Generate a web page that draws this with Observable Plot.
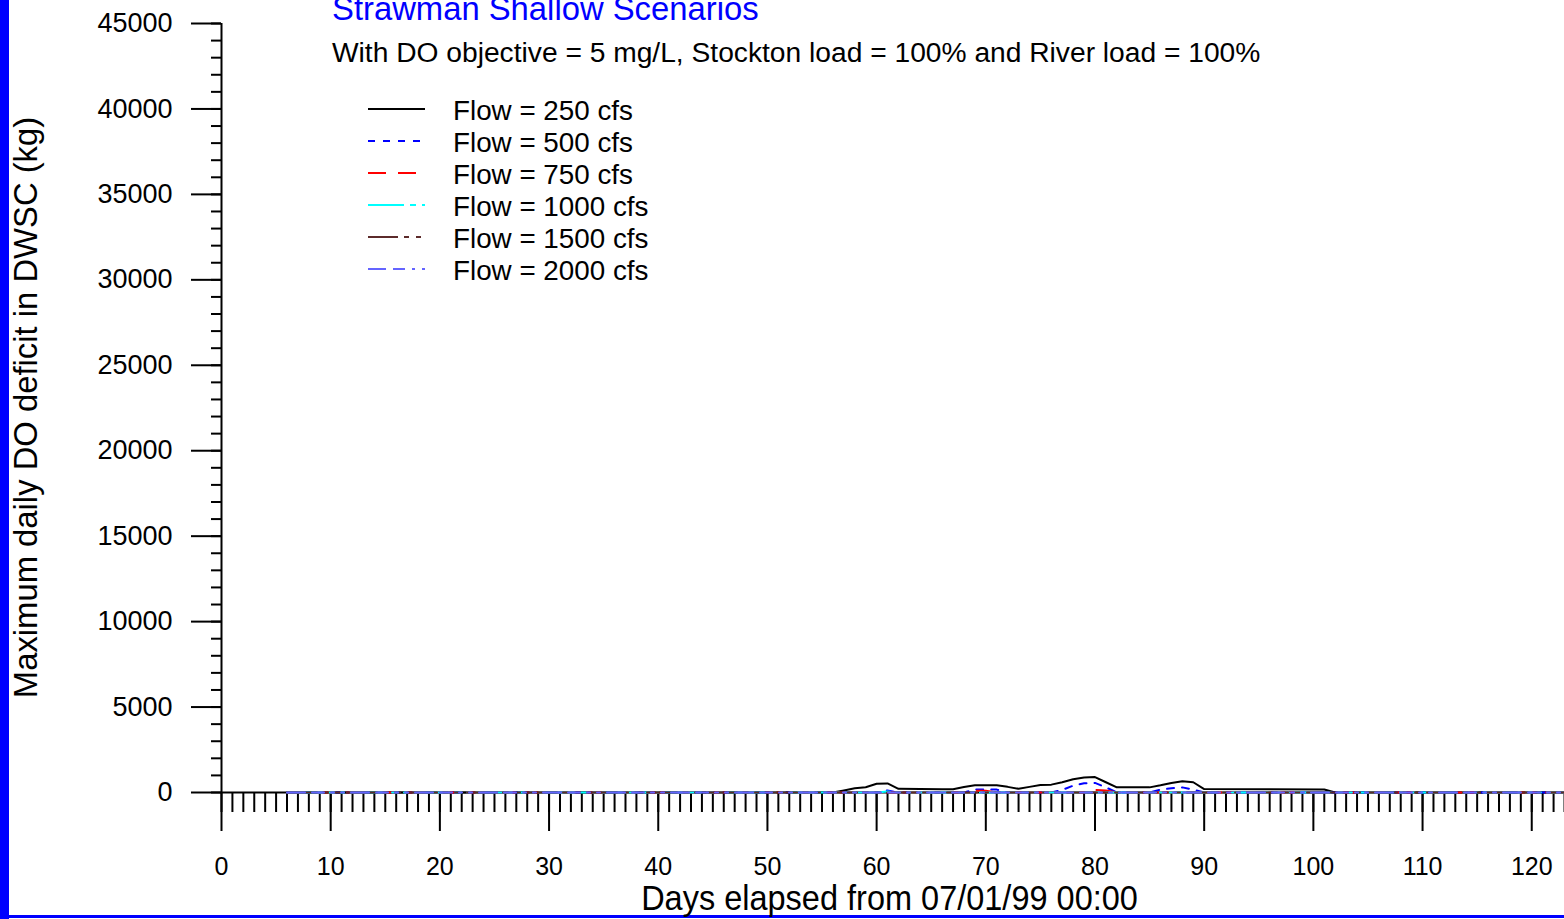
<!DOCTYPE html>
<html>
<head>
<meta charset="utf-8">
<script src="https://cdn.jsdelivr.net/npm/d3@7"></script>
<script src="https://cdn.jsdelivr.net/npm/@observablehq/plot@0.6"></script>
<style>
  html, body { margin: 0; padding: 0; background: #fff; }
  #wrap { position: relative; width: 1564px; height: 919px; overflow: hidden; font-family: "Liberation Sans", Arial, sans-serif; }
  #wrap svg { position: absolute; left: 0; top: 0; }
</style>
</head>
<body>
<div id="wrap"></div>
<script>
// Maximum daily DO deficit in the DWSC for each river flow scenario (kg),
// given as (day, value) breakpoints of each simulated series.
const seriesNames = ["Flow = 250 cfs", "Flow = 500 cfs", "Flow = 750 cfs", "Flow = 1000 cfs", "Flow = 1500 cfs", "Flow = 2000 cfs"];
const seriesColors = ["#000000", "#0000ff", "#ff0000", "#00ffff", "#5c2b2b", "#6464ff"];
const seriesDashes = ["none", "7,8", "18,12", "36,6,6,6,3,6", "30,6,5,7,5,7", "18,7,12,7,3,7,3,7"];

const days250 = [6, 56, 57, 58, 59, 60, 61, 62, 66, 67, 68, 69, 71, 72, 73, 74, 75, 76, 77, 78, 79, 80, 81, 82, 85, 86, 87, 88, 89, 90, 101, 102, 123];
const flow250 = [0, 0, 120, 250, 310, 510, 530, 215, 190, 190, 320, 430, 430, 330, 215, 330, 440, 460, 600, 780, 880, 900, 600, 300, 300, 420, 560, 660, 600, 200, 180, 0, 0];

const days500 = [6, 60, 61, 62, 68, 69, 71, 72, 76, 77, 78, 79, 80, 81, 82, 85, 86, 87, 88, 89, 90, 123];
const flow500 = [0, 0, 120, 0, 0, 170, 170, 0, 0, 150, 400, 540, 560, 300, 0, 0, 170, 250, 300, 170, 0, 0];

const days750 = [6, 68, 69, 70, 71, 79, 80, 81, 82, 123];
const flow750 = [0, 0, 100, 100, 0, 0, 150, 120, 0, 0];

const days1000 = [6, 60, 61, 62, 123];
const flow1000 = [0, 0, 60, 0, 0];

const days1500 = [6, 123];
const flow1500 = [0, 0];

const days2000 = [6, 123];
const flow2000 = [0, 0];

const xTicks = [0, 10, 20, 30, 40, 50, 60, 70, 80, 90, 100, 110, 120];
const yTicks = [0, 5000, 10000, 15000, 20000, 25000, 30000, 35000, 40000, 45000];

const titleText = "Strawman Shallow Scenarios";
const subtitleText = "With DO objective = 5 mg/L, Stockton load = 100% and River load = 100%";
const xTitle = "Days elapsed from 07/01/99 00:00";
const yTitle = "Maximum daily DO deficit in DWSC (kg)";

const seriesDays = [days250, days500, days750, days1000, days1500, days2000];
const seriesValues = [flow250, flow500, flow750, flow1000, flow1500, flow2000];
const series = seriesNames.map((name, i) => ({
  name,
  color: seriesColors[i],
  dash: seriesDashes[i],
  points: seriesDays[i].map((day, j) => ({day, value: seriesValues[i][j]}))
}));

const W = 1564, H = 919;
const font = "Liberation Sans, Arial, sans-serif";

const chart = Plot.plot({
  width: W,
  height: H,
  marginLeft: 221,
  marginRight: 0,
  marginTop: 23,
  marginBottom: 127,
  style: {fontFamily: font, color: "#000", background: "transparent", overflow: "visible"},
  x: {domain: [0, 123], label: null},
  y: {domain: [0, 45000], label: null},
  marks: [
    // minor ticks
    Plot.axisY(d3.range(0, 45001, 1000), {tickSize: 10, tickFormat: () => "", strokeWidth: 2, label: null}),
    Plot.axisX(d3.range(0, 124, 1), {tickSize: 20, tickFormat: () => "", strokeWidth: 2, label: null}),
    // major ticks with labels
    Plot.axisY(yTicks, {tickSize: 30, tickPadding: 19, fontSize: 27, tickFormat: "d", strokeWidth: 2, label: null}),
    Plot.axisX(xTicks, {tickSize: 39, tickPadding: 26, fontSize: 25, tickFormat: "d", strokeWidth: 2, label: null}),
    // axis lines
    Plot.ruleX([0], {strokeWidth: 2}),
    Plot.ruleY([0], {strokeWidth: 2}),
    // scenario series
    ...series.map(s => Plot.line(s.points, {
      x: "day", y: "value",
      stroke: s.color, strokeWidth: 2,
      strokeDasharray: s.dash === "none" ? undefined : s.dash
    }))
  ]
});

const wrap = document.getElementById("wrap");
wrap.appendChild(chart);

// Frame decorations, titles and legend
const svg = d3.select(wrap).append("svg")
  .attr("width", W).attr("height", H)
  .style("font-family", font);

svg.append("rect").attr("x", 0).attr("y", 0).attr("width", 9).attr("height", H).attr("fill", "#0000ff");
svg.append("rect").attr("x", 0).attr("y", 915).attr("width", W).attr("height", 3).attr("fill", "#0000ff");

svg.append("text").attr("x", 332).attr("y", 20)
  .attr("font-size", 32.8).attr("fill", "#0000ff").text(titleText);
svg.append("text").attr("x", 332).attr("y", 62)
  .attr("font-size", 28.2).attr("fill", "#000").text(subtitleText);

svg.append("text")
  .attr("transform", "translate(889.5,910) scale(1,1.1)")
  .attr("text-anchor", "middle").attr("font-size", 32.5).attr("fill", "#000")
  .text(xTitle);

svg.append("text")
  .attr("transform", "translate(37,407.5) rotate(-90)")
  .attr("text-anchor", "middle").attr("font-size", 32.8).attr("fill", "#000")
  .text(yTitle);

const legend = svg.append("g");
series.forEach((s, i) => {
  const y = 109 + 32 * i;
  legend.append("line")
    .attr("x1", 368).attr("x2", 425).attr("y1", y).attr("y2", y)
    .attr("stroke", s.color).attr("stroke-width", 2)
    .attr("stroke-dasharray", s.dash === "none" ? null : s.dash);
  legend.append("text")
    .attr("x", 453).attr("y", y + 11)
    .attr("font-size", 27.8).attr("fill", "#000")
    .text(s.name);
});
</script>
</body>
</html>
